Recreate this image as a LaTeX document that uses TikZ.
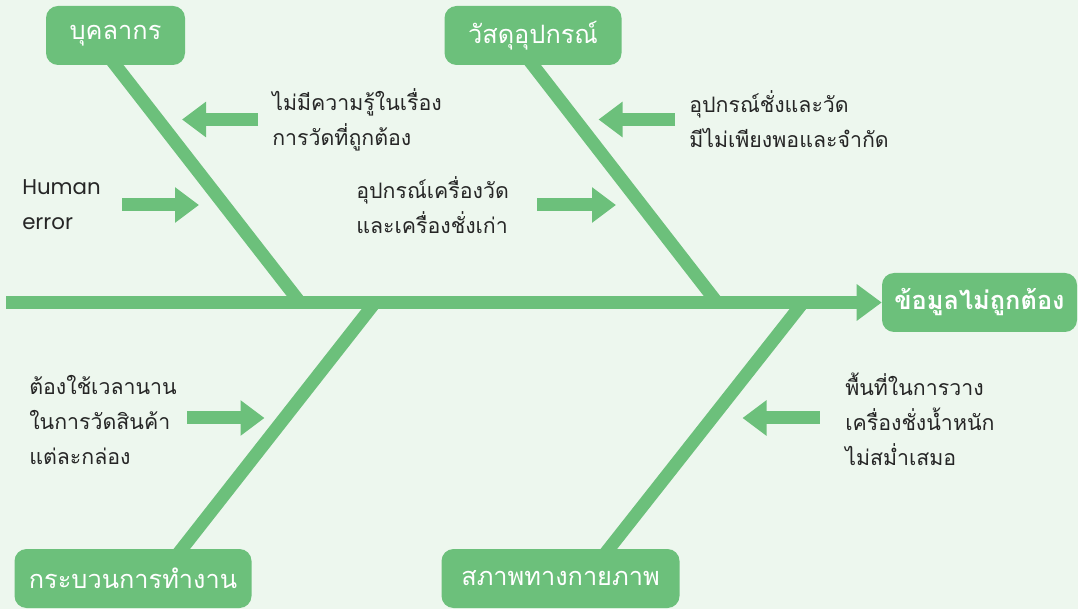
\documentclass[tikz,border=0pt]{standalone}
\usepackage{fontspec}
\newfontfamily\thaifont[Script=Thai]{Loma}
\newfontfamily\latinfont{Poppins}
\usetikzlibrary{arrows.meta,calc}
\definecolor{fishgreen}{HTML}{6CC07B}
\definecolor{bgc}{HTML}{EDF7EE}
\definecolor{txt}{HTML}{262626}
\pgfdeclarelayer{paper}
\pgfdeclarelayer{bones}
\pgfsetlayers{paper,bones,main}
\begin{document}
\begin{tikzpicture}[x=0.75pt,y=-0.75pt,
  bone/.style={draw=fishgreen,line width=9.75pt},
  blockarrow/.style={draw=fishgreen,line width=9.75pt,-{Triangle[length=18pt,width=25.5pt]}},
  catbox/.style={fill=fishgreen,rounded corners=9pt,text=white,inner sep=0pt,minimum height=44.25pt,font=\thaifont\fontsize{19pt}{22pt}\selectfont},
  headbox/.style={catbox,font=\thaifont\bfseries\fontsize{19pt}{22pt}\selectfont},
  note/.style={anchor=west,align=left,text=txt,inner sep=0pt,font=\thaifont\fontsize{16pt}{26.25pt}\selectfont},
  latinnote/.style={note,font=\latinfont\fontsize{16pt}{26.25pt}\selectfont}]
\begin{pgfonlayer}{paper}
\fill[bgc] (0,0) rectangle (1078,609);
\end{pgfonlayer}
\useasboundingbox (0,0) rectangle (1078,609);
% category boxes and head
\path (115.5,35.5) node[catbox,minimum width=104.25pt] (p1) {บุคลากร};
\path (533,35.5) node[catbox,minimum width=132.75pt] (p2) {วัสดุอุปกรณ์};
\path (133,578.5) node[catbox,minimum width=177.75pt] (p3) {กระบวนการทำงาน};
\path (560.5,578.5) node[catbox,minimum width=178.5pt] (p4) {สภาพทางกายภาพ};
\path (979.5,302.5) node[headbox,minimum width=146.25pt] (head) {ข้อมูลไม่ถูกต้อง};
% points on the spine and on the bottom boxes
\coordinate (tail) at (6,302.5);
\coordinate (s1) at (300,302.5);
\coordinate (s2) at (717,302.5);
\coordinate (s3) at (375,302.5);
\coordinate (s4) at (803,302.5);
\coordinate (c3) at ($(p3.north)+(49,0)$);
\coordinate (c4) at ($(p4.north)+(48.5,0)$);
% bones and spine
\begin{pgfonlayer}{bones}
\draw[bone] ($(p1.south)!-14pt!(s1)$) -- (s1);
\draw[bone] ($(p2.south)!-14pt!(s2)$) -- (s2);
\draw[bone] (s3) -- ($(c3)!-14pt!(s3)$);
\draw[bone] (s4) -- ($(c4)!-14pt!(s4)$);
\draw[bone,-{Triangle[length=18.75pt,width=26.25pt]}] (tail) -- (head.west);
\end{pgfonlayer}
% notes
\node[note] (t1) at (272,119.5) {ไม่มีความรู้ในเรื่อง\\การวัดที่ถูกต้อง};
\node[latinnote] (t2) at (22,205) {Human\\error};
\node[note] (t3) at (356,205) {อุปกรณ์เครื่องวัด\\และเครื่องชั่งเก่า};
\node[note] (t4) at (689,119.5) {อุปกรณ์ชั่งและวัด\\มีไม่เพียงพอและจำกัด};
\node[note] (t5) at (29,419.5) {ต้องใช้เวลานาน\\ในการวัดสินค้า\\แต่ละกล่อง};
\node[note] (t6) at (845,419.5) {พื้นที่ในการวาง\\เครื่องชั่งน้ำหนัก\\ไม่สม่ำเสมอ};
% block arrows
\coordinate (a1s) at (258,119.5); \coordinate (a1e) at (182,119.5);
\coordinate (a2s) at (122,205);   \coordinate (a2e) at (199,205);
\coordinate (a3s) at (537,205);   \coordinate (a3e) at (616,205);
\coordinate (a4s) at (675,119.5); \coordinate (a4e) at (598.5,119.5);
\coordinate (a5s) at (187,418);   \coordinate (a5e) at (264.5,418);
\coordinate (a6s) at (819.6,418); \coordinate (a6e) at (742.5,418);
\draw[blockarrow] (a1s) -- (a1e);
\draw[blockarrow] (a2s) -- (a2e);
\draw[blockarrow] (a3s) -- (a3e);
\draw[blockarrow] (a4s) -- (a4e);
\draw[blockarrow] (a5s) -- (a5e);
\draw[blockarrow] (a6s) -- (a6e);
\end{tikzpicture}
\end{document}
